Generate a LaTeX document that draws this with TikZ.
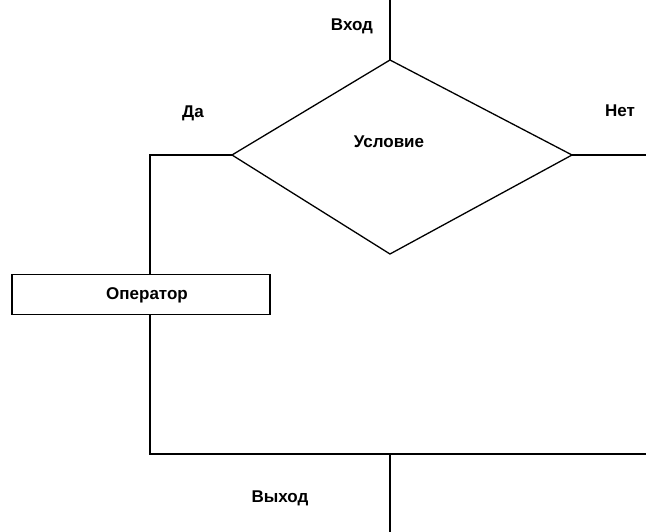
\documentclass[tikz,border=0pt]{standalone}
\usepackage{fontspec}
\setmainfont{Liberation Sans}
\begin{document}
\begin{tikzpicture}[x=1pt,y=-1pt,
  line/.style={draw=black,line width=1.3pt},
  lbl/.style={font=\bfseries\fontsize{17}{19}\selectfont,inner sep=0pt,anchor=center}]
\useasboundingbox (0,0) rectangle (646,532);
\coordinate (in) at (390,0);
\coordinate (dt) at (390,60);
\coordinate (dl) at (232,155);
\coordinate (dr) at (572,155);
\coordinate (db) at (390,254);
\coordinate (lc) at (150,155);
\coordinate (rc) at (646,155);
\coordinate (bl) at (150,454);
\coordinate (br) at (646,454);
\coordinate (bm) at (390,454);
\coordinate (out) at (390,532);
\node[line,rectangle,minimum width=258pt,minimum height=40pt,inner sep=0pt] (op) at (141,294.5) {};
\draw[line,line join=miter] (dt) -- (dr) -- (db) -- (dl) -- cycle;
\draw[line] (in) -- (dt);
\draw[line] (dl) -- (lc) -- (lc |- op.north);
\draw[line] (dr) -- (rc);
\draw[line] (lc |- op.south) -- (bl) -- (br);
\draw[line] (bm) -- (out);
\node[lbl] (tin) at (352,26) {Вход};
\node[lbl] (tyes) at (193,113) {Да};
\node[lbl] (tno) at (620,111) {Нет};
\node[lbl] (tcond) at (389,142) {Условие};
\node[lbl] (top) at (147,295) {Оператор};
\node[lbl] (tout) at (280,498) {Выход};
\end{tikzpicture}
\end{document}
